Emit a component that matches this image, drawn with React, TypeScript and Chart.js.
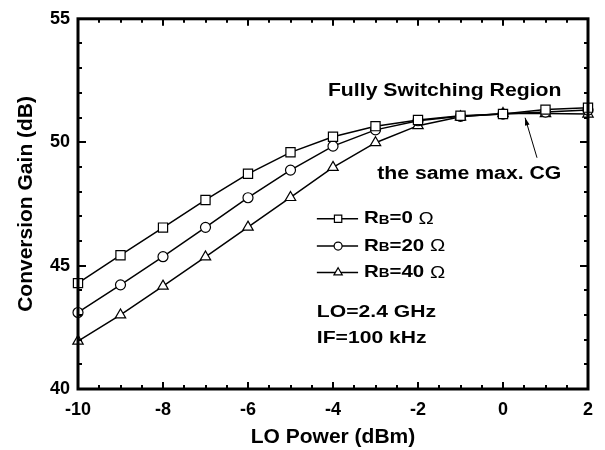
import { useEffect, useRef } from "react";
import { Chart, registerables } from "chart.js";

Chart.register(...registerables);

// ---- data ----
const loPower = [-10, -9, -8, -7, -6, -5, -4, -3, -2, -1, 0, 1, 2];
const gainRb0 = [44.29, 45.42, 46.54, 47.66, 48.72, 49.59, 50.22, 50.65, 50.9, 51.07, 51.14, 51.32, 51.4];
const gainRb20 = [43.1, 44.22, 45.36, 46.55, 47.75, 48.87, 49.84, 50.5, 50.87, 51.05, 51.14, 51.22, 51.3];
const gainRb40 = [41.94, 43.0, 44.17, 45.35, 46.56, 47.76, 48.98, 49.98, 50.67, 51.03, 51.16, 51.16, 51.14];
const rbValues = ["0", "20", "40"];
const pointStyles = ["rect", "circle", "triangle"] as const;
const pointRadii = [6.5, 5, 6];
const xTitle = "LO Power (dBm)";
const yTitle = "Conversion Gain (dB)";
const regionLabel = "Fully Switching Region";
const maxLabel = "the same max. CG";
const conditionLabels = ["LO=2.4 GHz", "IF=100 kHz"];

const FONT = '"Liberation Sans", Arial, Helvetica, sans-serif';

function drawText(
  ctx: CanvasRenderingContext2D,
  text: string,
  x: number,
  y: number,
  size: number,
  sx: number,
  weight = "bold"
) {
  ctx.save();
  ctx.translate(x, y);
  ctx.scale(sx, 1);
  ctx.font = `${weight} ${size}px ${FONT}`;
  ctx.textBaseline = "middle";
  ctx.textAlign = "left";
  ctx.fillStyle = "#000";
  ctx.fillText(text, 0, 0);
  const w = ctx.measureText(text).width * sx;
  ctx.restore();
  return w;
}

function drawMarker(ctx: CanvasRenderingContext2D, style: string, x: number, y: number, r: number) {
  ctx.save();
  ctx.beginPath();
  if (style === "rect") {
    const s = r * Math.SQRT1_2;
    ctx.rect(x - s, y - s, 2 * s, 2 * s);
  } else if (style === "circle") {
    ctx.arc(x, y, r, 0, Math.PI * 2);
  } else {
    let a = 0;
    ctx.moveTo(x + Math.sin(a) * r, y - Math.cos(a) * r);
    a += (2 * Math.PI) / 3;
    ctx.lineTo(x + Math.sin(a) * r, y - Math.cos(a) * r);
    a += (2 * Math.PI) / 3;
    ctx.lineTo(x + Math.sin(a) * r, y - Math.cos(a) * r);
    ctx.closePath();
  }
  ctx.fillStyle = "#fff";
  ctx.fill();
  ctx.lineWidth = 1.2;
  ctx.strokeStyle = "#000";
  ctx.stroke();
  ctx.restore();
}

const framePlugin = {
  id: "frameAndNotes",
  afterDraw(chart: any) {
    const { ctx, chartArea: ca, scales } = chart;
    const xs = scales.x;
    const ys = scales.y;
    const px = (v: number) => xs.getPixelForValue(v);
    const py = (v: number) => ys.getPixelForValue(v);

    ctx.save();
    ctx.strokeStyle = "#000";
    // ticks (inward on all four sides)
    ctx.lineWidth = 2;
    ctx.beginPath();
    for (let v = -10; v <= 2.001; v += 0.5) {
      const major = Math.abs(v / 2 - Math.round(v / 2)) < 1e-6;
      const len = major ? 7 : 4;
      const x = Math.round(px(v));
      ctx.moveTo(x, ca.bottom);
      ctx.lineTo(x, ca.bottom - len);
      ctx.moveTo(x, ca.top);
      ctx.lineTo(x, ca.top + len);
    }
    for (let v = 40; v <= 55.001; v += 1) {
      const major = v % 5 === 0;
      const len = major ? 8 : 4;
      const y = Math.round(py(v));
      ctx.moveTo(ca.left, y);
      ctx.lineTo(ca.left + len, y);
      ctx.moveTo(ca.right, y);
      ctx.lineTo(ca.right - len, y);
    }
    ctx.stroke();
    // frame
    ctx.lineWidth = 3;
    ctx.strokeRect(ca.left, ca.top, ca.right - ca.left, ca.bottom - ca.top);

    // annotations
    drawText(ctx, regionLabel, px(-4.12), py(52.06), 18, 1.18);
    drawText(ctx, maxLabel, px(-2.96), py(48.69), 18, 1.18);

    // arrow
    const tx = px(0.52), ty = py(50.99);
    const fx = px(0.8), fy = py(49.37);
    ctx.lineWidth = 1;
    ctx.beginPath();
    ctx.moveTo(fx, fy);
    ctx.lineTo(tx, ty);
    ctx.stroke();
    const ang = Math.atan2(ty - fy, tx - fx);
    const hl = 8, hw = 0.3;
    ctx.beginPath();
    ctx.moveTo(tx, ty);
    ctx.lineTo(tx - hl * Math.cos(ang - hw), ty - hl * Math.sin(ang - hw));
    ctx.lineTo(tx - hl * Math.cos(ang + hw), ty - hl * Math.sin(ang + hw));
    ctx.closePath();
    ctx.fillStyle = "#000";
    ctx.fill();

    // legend
    const rowsY = [46.9, 45.79, 44.72];
    rbValues.forEach((rb, i) => {
      const y = py(rowsY[i]);
      ctx.lineWidth = 1.5;
      ctx.strokeStyle = "#000";
      ctx.beginPath();
      ctx.moveTo(px(-4.38), y);
      ctx.lineTo(px(-3.41), y);
      ctx.stroke();
      drawMarker(ctx, pointStyles[i], px(-3.88), y, pointRadii[i] * 0.8);
      let x = px(-3.27);
      x += drawText(ctx, "R", x, y, 16.5, 1.24);
      x += drawText(ctx, "B", x, y + 1.5, 12, 1.24);
      x += drawText(ctx, "=" + rb + " ", x, y, 16.5, 1.24);
      drawText(ctx, "\u03A9", x, y + 0.5, 16.5, 1.24, "normal");
    });

    drawText(ctx, conditionLabels[0], px(-4.38), py(43.1), 16.5, 1.28);
    drawText(ctx, conditionLabels[1], px(-4.38), py(42.06), 16.5, 1.28);
    ctx.restore();
  },
};

export default function App() {
  const ref = useRef<HTMLCanvasElement | null>(null);

  useEffect(() => {
    if (!ref.current) return;
    const series = [gainRb0, gainRb20, gainRb40];
    const chart = new Chart(ref.current, {
      type: "line",
      data: {
        datasets: series.map((vals, i) => ({
          label: "RB=" + rbValues[i] + " \u03A9",
          data: loPower.map((x, k) => ({ x, y: vals[k] })),
          borderColor: "#000",
          borderWidth: 1.5,
          pointStyle: pointStyles[i],
          pointRadius: pointRadii[i],
          pointBackgroundColor: "#fff",
          pointBorderColor: "#000",
          pointBorderWidth: 1.2,
          tension: 0,
          clip: false as any,
        })),
      },
      options: {
        responsive: false,
        animation: false,
        layout: { padding: { top: 11, right: 17, left: 0, bottom: 0 } },
        plugins: { legend: { display: false }, tooltip: { enabled: false } },
        scales: {
          x: {
            type: "linear",
            min: -10,
            max: 2,
            ticks: {
              stepSize: 2,
              color: "#000",
              padding: 10,
              maxRotation: 0,
              font: { family: FONT, size: 18, weight: "bold" },
            },
            grid: { display: false, drawTicks: false },
            border: { display: false },
            title: {
              display: true,
              text: xTitle,
              color: "#000",
              font: { family: FONT, size: 21, weight: "bold" },
              padding: { top: 0, bottom: 0 },
            },
            afterFit: (s: any) => {
              s.height = 61;
            },
          },
          y: {
            type: "linear",
            min: 40,
            max: 55,
            ticks: {
              stepSize: 5,
              color: "#000",
              padding: 8,
              font: { family: FONT, size: 18, weight: "bold" },
            },
            grid: { display: false, drawTicks: false },
            border: { display: false },
            title: {
              display: true,
              text: yTitle,
              color: "#000",
              font: { family: FONT, size: 21, weight: "bold" },
              padding: { top: 14, bottom: 0 },
            },
            afterFit: (s: any) => {
              s.width = 78;
            },
          },
        },
      },
      plugins: [framePlugin],
    });
    return () => chart.destroy();
  }, []);

  return (
    <div style={{ position: "fixed", left: 0, top: 0, width: 605, height: 450, background: "#fff" }}>
      <canvas ref={ref} width={605} height={450} />
    </div>
  );
}
